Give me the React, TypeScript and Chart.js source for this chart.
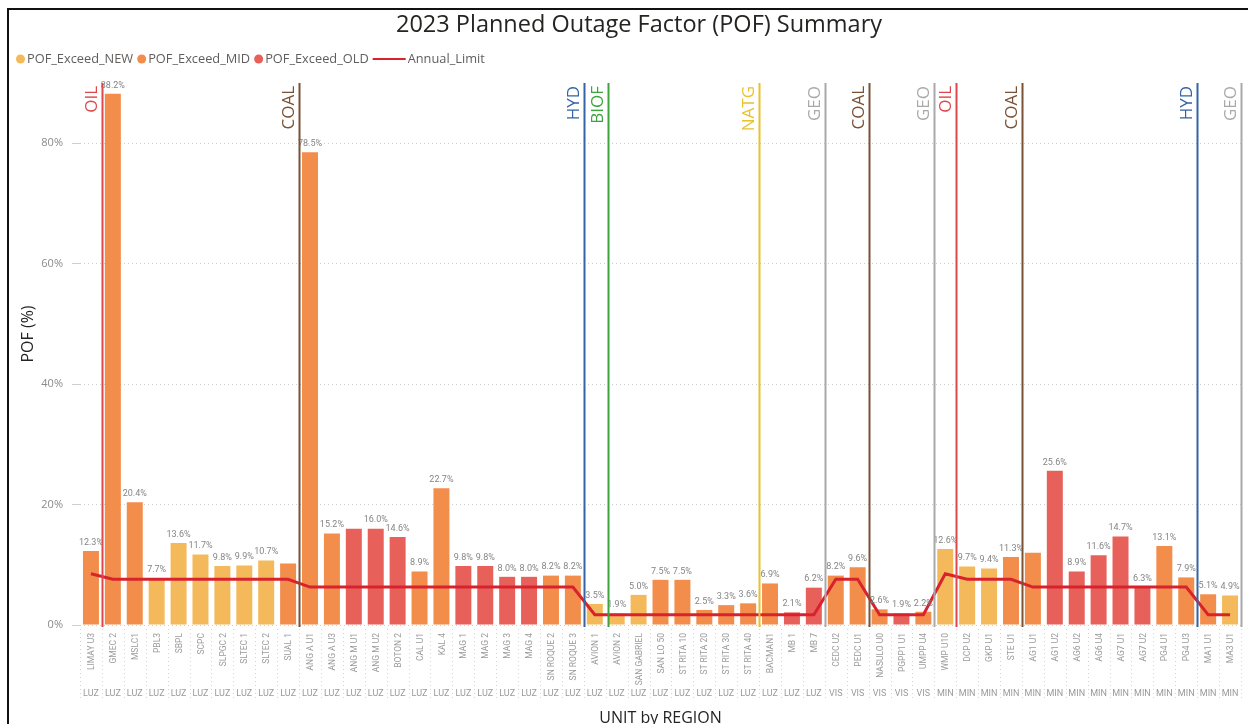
import React, { useEffect, useRef } from 'react';
import { Chart, registerables } from 'chart.js';

Chart.register(...registerables);

// ---------------- DATA ----------------
const units = [
  'LIMAY U3', 'GMEC 2', 'MSLC1', 'PBL3', 'SBPL', 'SCPC', 'SLPGC 2', 'SLTEC 1', 'SLTEC 2', 'SUAL 1',
  'ANG A U1', 'ANG A U3', 'ANG M U1', 'ANG M U2', 'BOTON 2', 'CAL U1', 'KAL 4', 'MAG 1', 'MAG 2', 'MAG 3',
  'MAG 4', 'SN ROQUE 2', 'SN ROQUE 3', 'AVION 1', 'AVION 2', 'SAN GABRIEL', 'SAN LO 50', 'ST RITA 10', 'ST RITA 20', 'ST RITA 30',
  'ST RITA 40', 'BACMAN1', 'MB 1', 'MB 7', 'CEDC U2', 'PEDC U1', 'NASULO U0', 'PGPP1 U1', 'UMPP U4', 'WMP U10',
  'DCP U2', 'GKP U1', 'STE U1', 'AG1 U1', 'AG1 U2', 'AG6 U2', 'AG6 U4', 'AG7 U1', 'AG7 U2', 'PG4 U1',
  'PG4 U3', 'MA1 U1', 'MA3 U1',
];

const regions = [
  'LUZ', 'LUZ', 'LUZ', 'LUZ', 'LUZ', 'LUZ', 'LUZ', 'LUZ', 'LUZ', 'LUZ',
  'LUZ', 'LUZ', 'LUZ', 'LUZ', 'LUZ', 'LUZ', 'LUZ', 'LUZ', 'LUZ', 'LUZ',
  'LUZ', 'LUZ', 'LUZ', 'LUZ', 'LUZ', 'LUZ', 'LUZ', 'LUZ', 'LUZ', 'LUZ',
  'LUZ', 'LUZ', 'LUZ', 'LUZ', 'VIS', 'VIS', 'VIS', 'VIS', 'VIS', 'MIN',
  'MIN', 'MIN', 'MIN', 'MIN', 'MIN', 'MIN', 'MIN', 'MIN', 'MIN', 'MIN',
  'MIN', 'MIN', 'MIN',
];

const pofValues = [
  12.3, 88.2, 20.4, 7.7, 13.6, 11.7, 9.8, 9.9, 10.7, 10.2,
  78.5, 15.2, 16.0, 16.0, 14.6, 8.9, 22.7, 9.8, 9.8, 8.0,
  8.0, 8.2, 8.2, 3.5, 1.9, 5.0, 7.5, 7.5, 2.5, 3.3,
  3.6, 6.9, 2.1, 6.2, 8.2, 9.6, 2.6, 1.9, 2.2, 12.6,
  9.7, 9.4, 11.3, 12.0, 25.6, 8.9, 11.6, 14.7, 6.3, 13.1,
  7.9, 5.1, 4.9,
];

const ageGroup = [
  'MID', 'MID', 'MID', 'NEW', 'NEW', 'NEW', 'NEW', 'NEW', 'NEW', 'MID',
  'MID', 'MID', 'OLD', 'OLD', 'OLD', 'MID', 'MID', 'OLD', 'OLD', 'OLD',
  'OLD', 'MID', 'MID', 'NEW', 'NEW', 'NEW', 'MID', 'MID', 'MID', 'MID',
  'MID', 'MID', 'OLD', 'OLD', 'MID', 'MID', 'MID', 'OLD', 'MID', 'NEW',
  'NEW', 'NEW', 'MID', 'MID', 'OLD', 'OLD', 'OLD', 'OLD', 'OLD', 'MID',
  'MID', 'MID', 'NEW',
];

const annualLimit = [
  8.5, 7.6, 7.6, 7.6, 7.6, 7.6, 7.6, 7.6, 7.6, 7.6,
  6.3, 6.3, 6.3, 6.3, 6.3, 6.3, 6.3, 6.3, 6.3, 6.3,
  6.3, 6.3, 6.3, 1.7, 1.7, 1.7, 1.7, 1.7, 1.7, 1.7,
  1.7, 1.7, 1.7, 1.7, 7.6, 7.6, 1.7, 1.7, 1.7, 8.5,
  7.6, 7.6, 7.6, 6.3, 6.3, 6.3, 6.3, 6.3, 6.3, 6.3,
  6.3, 1.7, 1.7,
];

// labels hidden in the original (overlapped)
const hiddenLabelUnits = ['SUAL 1', 'ANG M U1', 'AG1 U1'];

// fuel-type separator markers (category position between units)
const fuelLabels = ['OIL', 'COAL', 'HYD', 'BIOF', 'NATG', 'GEO', 'COAL', 'GEO', 'OIL', 'COAL', 'HYD', 'GEO'];
const fuelPositions = [0.5, 9.5, 22.5, 23.6, 30.5, 33.5, 35.5, 38.5, 39.5, 42.5, 50.5, 52.5];

const seriesNames = ['POF_Exceed_NEW', 'POF_Exceed_MID', 'POF_Exceed_OLD', 'Annual_Limit'];

// ---------------- STYLES ----------------
const COLORS: Record<string, string> = {
  NEW: '#F4B95A',
  MID: '#F38D4B',
  OLD: '#E8605A',
  LIMIT: '#D8232E',
};
const FUEL_COLORS: Record<string, string> = {
  OIL: '#E0474C',
  COAL: '#7A5236',
  HYD: '#3464A4',
  BIOF: '#3DA33D',
  NATG: '#E8C22E',
  GEO: '#A9A9A9',
};

const SANS = '"Open Sans", "Noto Sans", sans-serif';
const NARROW = 'Roboto, "Liberation Sans Narrow", sans-serif';

const overlayPlugin = {
  id: 'overlay',
  afterDatasetsDraw(chart: any) {
    const ctx: CanvasRenderingContext2D = chart.ctx;
    const xs = chart.scales.x;
    const area = chart.chartArea;

    // data labels
    ctx.save();
    ctx.font = `9px ${NARROW}`;
    ctx.fillStyle = '#858585';
    ctx.textAlign = 'center';
    ctx.textBaseline = 'bottom';
    for (let d = 0; d < 3; d++) {
      const meta = chart.getDatasetMeta(d);
      meta.data.forEach((el: any, i: number) => {
        const v = chart.data.datasets[d].data[i];
        if (v == null) return;
        if (hiddenLabelUnits.includes(units[i])) return;
        ctx.fillText(v.toFixed(1) + '%', el.x, el.y - 4);
      });
    }
    ctx.restore();

    // fuel separator lines
    fuelLabels.forEach((lab, k) => {
      const x = Math.round(xs.getPixelForValue(fuelPositions[k])) + 0.5;
      const col = FUEL_COLORS[lab];
      ctx.save();
      ctx.strokeStyle = col;
      ctx.lineWidth = 2;
      ctx.beginPath();
      ctx.moveTo(x, area.top);
      ctx.lineTo(x, area.bottom + 2);
      ctx.stroke();
      ctx.translate(x - 2, area.top + 3);
      ctx.rotate(-Math.PI / 2);
      ctx.font = `17px ${SANS}`;
      ctx.fillStyle = col;
      ctx.textAlign = 'right';
      ctx.textBaseline = 'bottom';
      ctx.fillText(lab, 0, 0);
      ctx.restore();
    });
  },
  afterDraw(chart: any) {
    const ctx: CanvasRenderingContext2D = chart.ctx;
    const xs = chart.scales.x;
    const area = chart.chartArea;

    // x axis category labels
    ctx.save();
    ctx.fillStyle = '#9a9a9a';
    units.forEach((u, i) => {
      const x = xs.getPixelForValue(i);
      ctx.save();
      ctx.font = `8.5px ${NARROW}`;
      ctx.translate(x + 1, area.bottom + 8);
      ctx.rotate(-Math.PI / 2);
      ctx.textAlign = 'right';
      ctx.textBaseline = 'middle';
      ctx.fillText(u, 0, 0);
      ctx.restore();
      ctx.font = `9px ${NARROW}`;
      ctx.textAlign = 'center';
      ctx.textBaseline = 'middle';
      ctx.fillText(regions[i], x, area.bottom + 69);
    });
    // dotted separators
    ctx.strokeStyle = '#d2d2d2';
    ctx.lineWidth = 1;
    ctx.setLineDash([1, 3]);
    for (let i = -1; i < units.length; i++) {
      const x = Math.round(xs.getPixelForValue(i + 0.5)) + 0.5;
      ctx.beginPath();
      ctx.moveTo(x, area.bottom + 4);
      ctx.lineTo(x, area.bottom + 76);
      ctx.stroke();
    }
    ctx.setLineDash([]);
    ctx.restore();

    // x axis title
    ctx.save();
    ctx.fillStyle = '#252423';
    ctx.font = `16px ${SANS}`;
    ctx.textAlign = 'center';
    ctx.textBaseline = 'middle';
    ctx.fillText('UNIT by REGION', (area.left + area.right) / 2, 718);
    ctx.restore();

    // y axis title
    ctx.save();
    ctx.translate(28, 334);
    ctx.rotate(-Math.PI / 2);
    ctx.fillStyle = '#252423';
    ctx.font = `16px ${SANS}`;
    ctx.textAlign = 'center';
    ctx.textBaseline = 'middle';
    ctx.fillText('POF (%)', 0, 0);
    ctx.restore();

    // chart title
    ctx.save();
    ctx.fillStyle = '#252423';
    ctx.font = `23.5px ${SANS}`;
    ctx.textAlign = 'center';
    ctx.textBaseline = 'middle';
    ctx.fillText('2023 Planned Outage Factor (POF) Summary', 639, 25);
    ctx.restore();

    // legend
    ctx.save();
    ctx.font = `12.8px ${SANS}`;
    ctx.textBaseline = 'middle';
    ctx.textAlign = 'left';
    let lx = 16;
    const ly = 59;
    chart.data.datasets.forEach((ds: any) => {
      if (ds.type === 'line') {
        ctx.strokeStyle = ds.borderColor;
        ctx.lineWidth = 2;
        ctx.beginPath();
        ctx.moveTo(lx, ly);
        ctx.lineTo(lx + 33, ly);
        ctx.stroke();
        lx += 35;
      } else {
        ctx.fillStyle = ds.backgroundColor;
        ctx.beginPath();
        ctx.arc(lx + 4.5, ly, 4.5, 0, Math.PI * 2);
        ctx.fill();
        lx += 11;
      }
      ctx.fillStyle = '#605E5C';
      ctx.fillText(ds.label, lx, ly);
      lx += ctx.measureText(ds.label).width + 4;
    });
    ctx.restore();

    // frame
    ctx.save();
    ctx.strokeStyle = '#111';
    ctx.lineWidth = 2;
    ctx.strokeRect(8, 9, 1400, 900);
    ctx.restore();
  },
};

export default function App() {
  const ref = useRef<HTMLCanvasElement | null>(null);

  useEffect(() => {
    if (!ref.current) return;
    const pick = (g: string) => pofValues.map((v, i) => (ageGroup[i] === g ? v : null));
    const barCommon = {
      type: 'bar' as const,
      grouped: false,
      categoryPercentage: 1,
      barPercentage: 0.73,
      order: 2,
    };
    const chart = new Chart(ref.current, {
      type: 'bar',
      data: {
        labels: units,
        datasets: [
          { ...barCommon, label: seriesNames[0], data: pick('NEW'), backgroundColor: COLORS.NEW },
          { ...barCommon, label: seriesNames[1], data: pick('MID'), backgroundColor: COLORS.MID },
          { ...barCommon, label: seriesNames[2], data: pick('OLD'), backgroundColor: COLORS.OLD },
          {
            type: 'line' as const,
            label: seriesNames[3],
            data: annualLimit,
            borderColor: COLORS.LIMIT,
            backgroundColor: COLORS.LIMIT,
            borderWidth: 3,
            pointRadius: 0,
            tension: 0,
            order: 0,
          },
        ] as any,
      },
      options: {
        responsive: false,
        animation: false,
        layout: { padding: { top: 83, right: 7, left: 0, bottom: 0 } },
        plugins: {
          legend: { display: false },
          title: { display: false },
          tooltip: { enabled: false },
        },
        scales: {
          x: {
            type: 'category',
            offset: true,
            grid: { display: false },
            border: { display: false },
            ticks: { display: false },
            afterFit: (s: any) => { s.height = 99; },
          },
          y: {
            min: 0,
            max: 90,
            ticks: {
              stepSize: 20,
              padding: 9,
              color: '#8a8a8a',
              font: { size: 11, family: SANS },
              callback: (v: any) => v + '%',
            },
            afterBuildTicks: (s: any) => { s.ticks = s.ticks.filter((t: any) => t.value % 20 === 0); },
            grid: { color: '#cfcfcf', lineWidth: 1, tickLength: 8, drawTicks: true },
            border: { display: false, dash: [1, 3] },
            afterFit: (s: any) => { s.width = 80; },
          },
        },
      } as any,
      plugins: [overlayPlugin],
    });
    return () => chart.destroy();
  }, []);

  return (
    <div style={{ position: 'fixed', left: 0, top: 0, width: 1248, height: 724, background: '#fff' }}>
      <canvas ref={ref} width={1248} height={724} style={{ display: 'block' }} />
    </div>
  );
}
